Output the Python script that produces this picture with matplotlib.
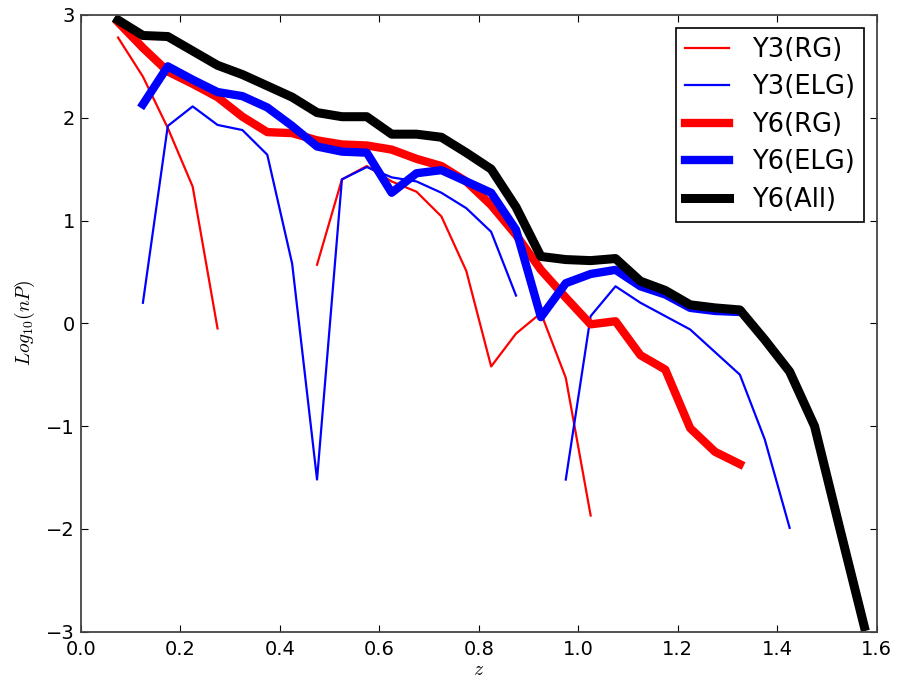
import numpy as np
import matplotlib
matplotlib.use("Agg")
import matplotlib.pyplot as plt

nan = np.nan

# bin centres in redshift
z = np.arange(0.075, 1.6, 0.05)

y3_rg = [2.78, 2.40, 1.90, 1.33, -0.05, nan, nan, nan,
         0.57, 1.40, 1.53, 1.38, 1.28, 1.04, 0.51, -0.42,
         -0.10, 0.10, -0.53, -1.87, nan, nan, nan, nan,
         nan, nan, nan, nan, nan, nan, nan]
y3_elg = [nan, 0.20, 1.92, 2.11, 1.93, 1.88, 1.64, 0.58,
          -1.52, 1.40, 1.52, 1.42, 1.38, 1.27, 1.12, 0.89,
          0.27, nan, -1.52, 0.07, 0.36, 0.20, 0.07, -0.06,
          -0.28, -0.50, -1.13, -1.99, nan, nan, nan]
y6_rg = [2.93, 2.68, 2.45, 2.33, 2.20, 2.01, 1.86, 1.85,
         1.78, 1.74, 1.73, 1.69, 1.60, 1.53, 1.38, 1.15,
         0.86, 0.52, 0.25, -0.01, 0.02, -0.31, -0.45, -1.02,
         -1.25, -1.37, nan, nan, nan, nan, nan]
y6_elg = [nan, 2.13, 2.50, 2.37, 2.25, 2.21, 2.10, 1.92,
          1.72, 1.67, 1.66, 1.27, 1.46, 1.49, 1.38, 1.27,
          0.91, 0.06, 0.39, 0.48, 0.52, 0.36, 0.28, 0.15,
          0.12, 0.11, nan, nan, nan, nan, nan]
y6_all = [2.95, 2.80, 2.79, 2.65, 2.51, 2.42, 2.31, 2.20,
          2.05, 2.01, 2.01, 1.84, 1.84, 1.81, 1.66, 1.50,
          1.13, 0.65, 0.62, 0.61, 0.63, 0.41, 0.32, 0.18,
          0.15, 0.13, -0.16, -0.47, -1.00, -1.98, -2.95]

plt.rcParams.update({
    "font.size": 14,
    "mathtext.fontset": "cm",
    "xtick.direction": "in",
    "ytick.direction": "in",
    "xtick.top": True,
    "ytick.right": True,
    "xtick.major.size": 5,
    "ytick.major.size": 5,
    "xtick.major.pad": 6,
    "ytick.major.pad": 4,
})

fig = plt.figure(figsize=(8.99, 6.79), dpi=100)
ax = fig.add_axes([0.0898, 0.0697, 0.8854, 0.9083])

ax.plot(z, y3_rg, color="#ff0000", lw=1.6, label="Y3(RG)")
ax.plot(z, y3_elg, color="#0000ff", lw=1.6, label="Y3(ELG)")
ax.plot(z, y6_rg, color="#ff0000", lw=6, label="Y6(RG)")
ax.plot(z, y6_elg, color="#0000ff", lw=6, label="Y6(ELG)")
ax.plot(z, y6_all, color="#000000", lw=6.5, label="Y6(All)")

ax.set_xlim(0.0, 1.6)
ax.set_ylim(-3, 3)
ax.set_xticks(np.arange(0.0, 1.61, 0.2))
ax.set_yticks(np.arange(-3, 4, 1))
ax.set_xticklabels([f"{v:.1f}" for v in np.arange(0.0, 1.61, 0.2)])
ax.set_xlabel("$z$", fontsize=14, labelpad=1)
ax.set_ylabel("$Log_{10}(nP)$", fontsize=14, labelpad=7)

for sp in ax.spines.values():
    sp.set_linewidth(1.3)
    sp.set_color("#444444")

leg = ax.legend(loc="upper right", fancybox=False, edgecolor="black",
                framealpha=1, fontsize=18.5, handlelength=1.7,
                handletextpad=0.9, borderpad=0.35,
                borderaxespad=0.5, labelspacing=0.45)
leg.get_frame().set_linewidth(1.2)

fig.savefig("out.png", dpi=100)
